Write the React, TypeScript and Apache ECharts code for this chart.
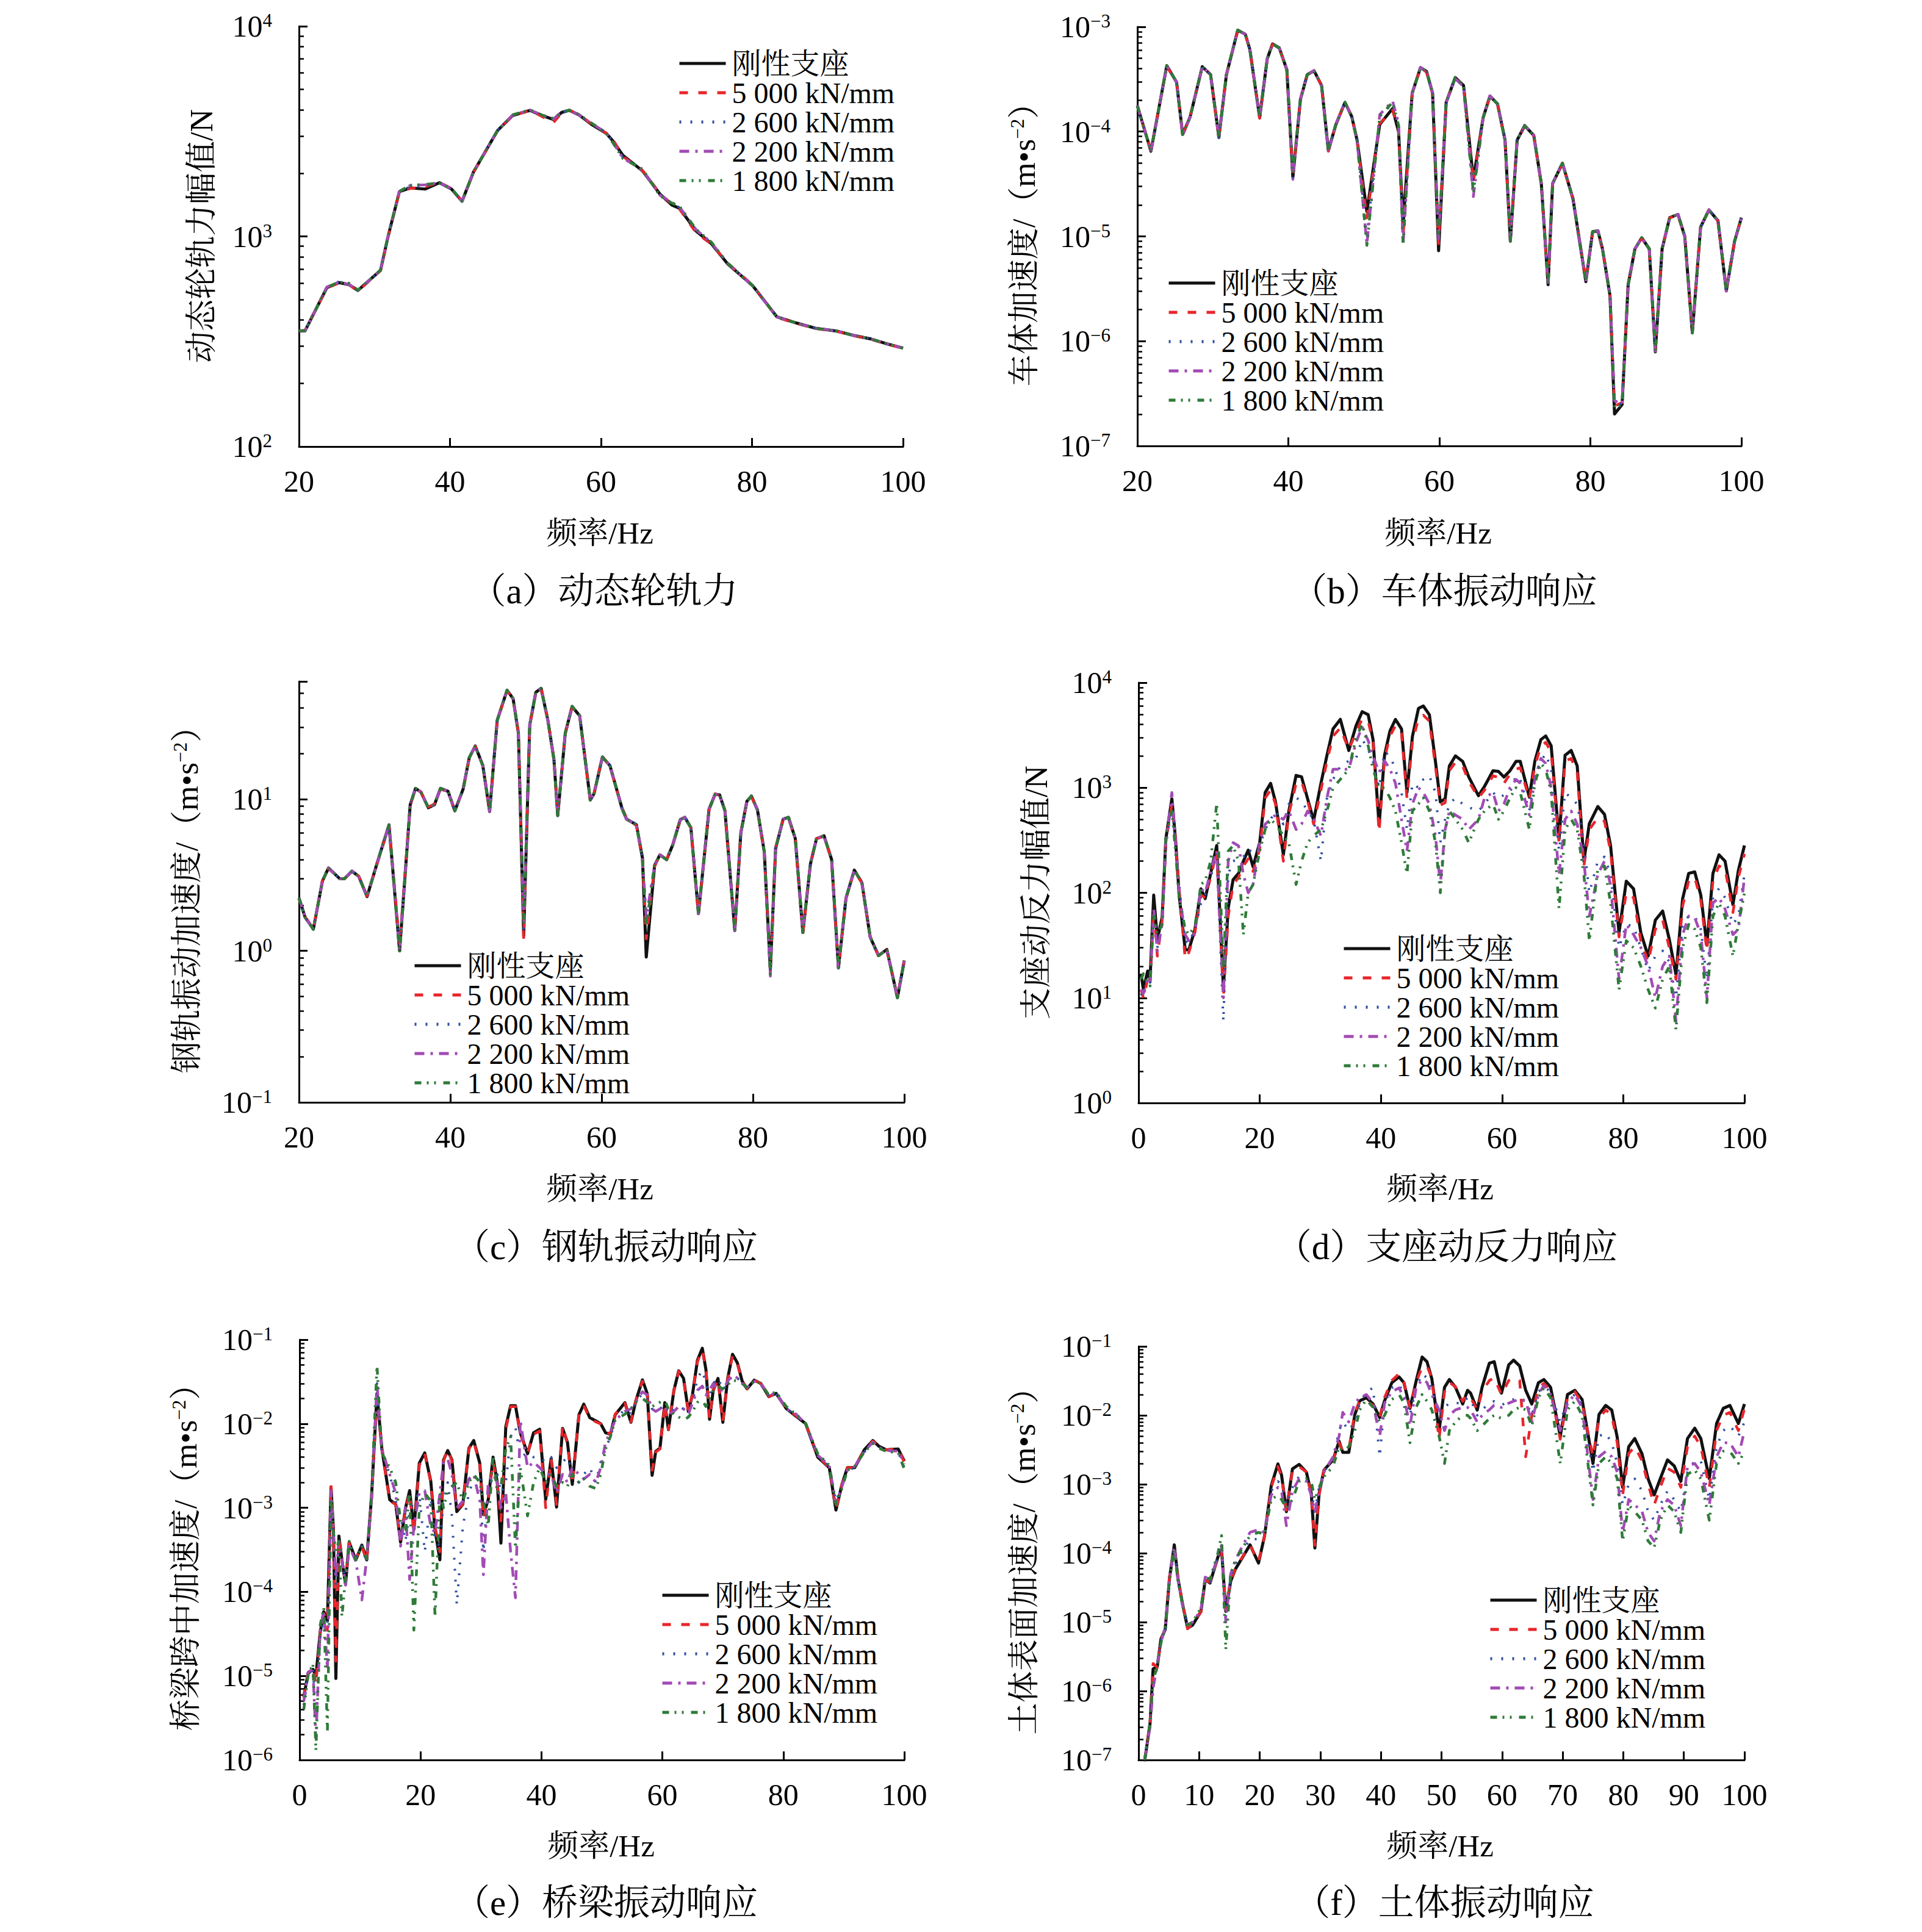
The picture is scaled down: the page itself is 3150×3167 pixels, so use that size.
import React, { useEffect, useRef } from 'react';
import * as echarts from 'echarts';

const FONT = "'Liberation Serif', 'Times New Roman', 'Noto Serif CJK SC', 'Noto Sans CJK SC', serif";
const SERIES_NAMES = ['刚性支座', '5 000 kN/mm', '2 600 kN/mm', '2 200 kN/mm', '1 800 kN/mm'];
const COLORS = ['#111111', '#e8262b', '#2f4fa0', '#a24bb5', '#2e7b38'];
const WIDTHS = [5, 4.5, 4, 4.5, 4.5];
const DASHES: any[] = ['solid', [14, 17], [3, 15], [16, 10, 4, 10], [11, 9, 3, 9, 3, 12]];

// ---------- (a) 动态轮轨力 ----------
const aFreq = [20,20.8,23.7,25.3,26.6,27.8,30.8,31.8,33.3,34.7,36.7,38.6,40.2,41.6,43.1,46.3,48.3,50.6,52.2,53.7,54.8,55.8,57.1,58.7,60.7,61.6,62.9,65.5,67.8,69.4,70.4,72.6,74.6,76.8,80.1,83.3,85.9,88.5,91.1,93.6,95.6,97.6,100];
const aRigid = [355,355,571,603,590,553,690,1000,1633,1700,1680,1800,1680,1470,2020,3190,3760,3980,3760,3600,3890,3980,3780,3420,3090,2840,2430,2050,1590,1410,1360,1060,925,738,582,414,387,365,355,337,326,310,294];
const a5000 = [355,357,568,600,592,548,688,990,1630,1690,1720,1810,1690,1475,2010,3180,3750,3970,3720,3480,3870,3990,3790,3440,3100,2880,2400,2060,1600,1420,1350,1040,920,745,585,412,385,364,354,336,325,309,293];
const a2600 = [355,356,572,610,588,552,692,1005,1640,1720,1740,1790,1680,1470,2030,3200,3770,3990,3770,3610,3900,3970,3760,3450,3120,2800,2380,2080,1580,1440,1370,1070,930,740,582,415,386,366,355,338,327,310,294];
const a2200 = [356,355,575,606,592,554,690,1000,1635,1745,1760,1800,1690,1468,2025,3195,3780,3990,3770,3620,3910,3990,3770,3460,3110,2790,2360,2070,1570,1450,1380,1075,935,742,580,414,387,365,355,337,326,310,294];
const a1800 = [356,356,573,606,600,555,691,1002,1638,1750,1770,1790,1690,1470,2020,3190,3790,4000,3780,3640,3900,3990,3800,3470,3100,2780,2350,2090,1560,1440,1390,1080,940,745,582,413,387,365,355,337,326,310,294];

// ---------- (b) 车体振动响应 ----------
const bFreq = [20,21.8,23.9,25.2,26.0,27.0,28.6,29.7,30.8,31.8,
  33.3,34.3,34.9,36.2,37.2,37.9,38.8,39.8,40.6,41.6,
  42.5,43.4,44.4,45.3,46.3,47.5,48.4,49.1,50.4,52.1,
  53.8,54.6,55.2,56.4,57.5,58.3,59.1,59.9,60.9,62.1,
  63.2,64.5,65.8,66.7,67.7,68.7,69.4,70.3,71.3,72.5,
  73.5,74.4,75.0,76.3,77.7,79.4,80.3,81.0,81.6,82.6,
  83.2,84.2,85.0,85.9,86.8,87.8,88.6,89.5,90.5,91.6,
  92.5,93.5,94.6,95.7,96.9,98.0,99.1,100];
const bRigid = [1.77e-4,6.5e-5,4.26e-4,2.96e-4,9.4e-5,1.39e-4,4.17e-4,3.5e-4,8.8e-5,3.5e-4,
  9.3e-4,8.5e-4,6.1e-4,1.36e-4,4.94e-4,6.87e-4,6.3e-4,3.89e-4,3.67e-5,2.03e-4,
  3.5e-4,3.81e-4,2.76e-4,6.6e-5,1.17e-4,1.9e-4,1.39e-4,8.3e-5,1.73e-5,1.17e-4,
  1.66e-4,1.0e-4,1.3e-5,2.33e-4,4.08e-4,3.76e-4,2.33e-4,7.3e-6,1.9e-4,3.28e-4,
  2.76e-4,3.5e-5,1.36e-4,2.18e-4,1.84e-4,8.3e-5,9e-6,8.3e-5,1.14e-4,9.2e-5,
  3.2e-5,3.46e-6,3.2e-5,4.99e-5,2.28e-5,3.7e-6,1.11e-5,1.13e-5,7.6e-6,2.72e-6,
  2.02e-7,2.48e-7,3.46e-6,7.6e-6,9.7e-6,7.6e-6,7.9e-7,7.6e-6,1.51e-5,1.62e-5,
  1.0e-5,1.2e-6,1.23e-5,1.79e-5,1.41e-5,3.02e-6,9e-6,1.51e-5];
const b5000 = [1.77e-4,6.6e-5,4.2e-4,2.98e-4,9.2e-5,1.4e-4,4.15e-4,3.5e-4,8.6e-5,3.5e-4,
  9.2e-4,8.5e-4,6.1e-4,1.34e-4,4.9e-4,6.8e-4,6.3e-4,3.9e-4,3.6e-5,2.05e-4,
  3.5e-4,3.8e-4,2.75e-4,6.5e-5,1.18e-4,1.9e-4,1.4e-4,8.2e-5,1.5e-5,1.2e-4,
  1.6e-4,1.05e-4,1.0e-5,2.35e-4,4.05e-4,3.7e-4,2.3e-4,8.5e-6,1.9e-4,3.2e-4,
  2.8e-4,3.3e-5,1.36e-4,2.15e-4,1.85e-4,8.2e-5,9.2e-6,8.4e-5,1.12e-4,9.3e-5,
  3.1e-5,3.5e-6,3.2e-5,4.9e-5,2.3e-5,3.8e-6,1.1e-5,1.12e-5,7.5e-6,2.8e-6,
  2.4e-7,2.6e-7,3.4e-6,7.5e-6,9.6e-6,7.5e-6,8.2e-7,7.7e-6,1.5e-5,1.6e-5,
  1.0e-5,1.25e-6,1.22e-5,1.78e-5,1.4e-5,3.1e-6,9e-6,1.5e-5];
const b2600 = [1.77e-4,6.5e-5,4.25e-4,2.95e-4,9.4e-5,1.38e-4,4.2e-4,3.48e-4,8.7e-5,3.5e-4,
  9.3e-4,8.4e-4,6.1e-4,1.35e-4,4.95e-4,6.8e-4,6.2e-4,3.9e-4,3.6e-5,2.0e-4,
  3.5e-4,3.8e-4,2.8e-4,6.6e-5,1.2e-4,1.92e-4,1.38e-4,8.1e-5,1.0e-5,1.4e-4,
  1.85e-4,1.1e-4,8.8e-6,2.3e-4,4.1e-4,3.75e-4,2.3e-4,9e-6,1.88e-4,3.25e-4,
  2.75e-4,3e-5,1.35e-4,2.2e-4,1.85e-4,8.3e-5,9e-6,8.3e-5,1.15e-4,9.2e-5,
  3.2e-5,3.5e-6,3.2e-5,5e-5,2.3e-5,3.7e-6,1.1e-5,1.13e-5,7.6e-6,2.7e-6,
  2.6e-7,2.5e-7,3.5e-6,7.6e-6,9.7e-6,7.6e-6,8e-7,7.6e-6,1.5e-5,1.62e-5,
  1.0e-5,1.2e-6,1.23e-5,1.8e-5,1.4e-5,3e-6,9e-6,1.5e-5];
const b2200 = [1.78e-4,6.4e-5,4.27e-4,2.97e-4,9.3e-5,1.39e-4,4.18e-4,3.5e-4,8.8e-5,3.52e-4,
  9.3e-4,8.5e-4,6.2e-4,1.36e-4,4.95e-4,6.9e-4,6.3e-4,3.9e-4,3.5e-5,2.03e-4,
  3.5e-4,3.82e-4,2.76e-4,6.4e-5,1.18e-4,1.9e-4,1.39e-4,8.2e-5,8.4e-6,1.45e-4,
  1.96e-4,1.2e-4,8.4e-6,2.33e-4,4.1e-4,3.76e-4,2.35e-4,9.5e-6,1.9e-4,3.2e-4,
  2.7e-4,2.4e-5,1.36e-4,2.2e-4,1.85e-4,8.3e-5,9e-6,8.3e-5,1.15e-4,9.2e-5,
  3.2e-5,3.4e-6,3.2e-5,5e-5,2.3e-5,3.7e-6,1.1e-5,1.13e-5,7.6e-6,2.7e-6,
  2.7e-7,2.5e-7,3.5e-6,7.6e-6,9.7e-6,7.6e-6,8e-7,7.6e-6,1.5e-5,1.62e-5,
  1.0e-5,1.2e-6,1.23e-5,1.8e-5,1.4e-5,3e-6,9e-6,1.5e-5];
const b1800 = [1.76e-4,6.5e-5,4.26e-4,2.96e-4,9.4e-5,1.39e-4,4.17e-4,3.5e-4,8.8e-5,3.5e-4,
  9.3e-4,8.5e-4,6.1e-4,1.36e-4,4.94e-4,6.87e-4,6.3e-4,3.89e-4,4.0e-5,2.03e-4,
  3.5e-4,3.81e-4,2.76e-4,6.6e-5,1.17e-4,1.9e-4,1.39e-4,8.3e-5,8.2e-6,1.4e-4,
  1.9e-4,1.15e-4,8.2e-6,2.33e-4,4.08e-4,3.76e-4,2.33e-4,1.0e-5,1.9e-4,3.28e-4,
  2.76e-4,2.6e-5,1.36e-4,2.18e-4,1.84e-4,8.3e-5,9e-6,8.3e-5,1.14e-4,9.2e-5,
  3.2e-5,3.46e-6,3.2e-5,4.99e-5,2.28e-5,3.7e-6,1.11e-5,1.13e-5,7.6e-6,2.72e-6,
  2.3e-7,2.48e-7,3.46e-6,7.6e-6,9.7e-6,7.6e-6,7.9e-7,7.6e-6,1.51e-5,1.62e-5,
  1.0e-5,1.2e-6,1.23e-5,1.79e-5,1.41e-5,3.02e-6,9e-6,1.51e-5];

// ---------- (c) 钢轨振动响应 ----------
const cFreq = [20,20.8,21.9,23.1,23.9,25.4,26.0,27.0,27.9,29.0,
  30.3,31.9,33.3,34.7,35.4,36.1,37.1,37.9,38.7,39.7,
  40.6,41.7,42.5,43.3,44.3,45.2,46.2,47.5,48.3,49.0,
  49.7,50.5,51.3,52.0,52.9,53.7,54.2,55.2,56.1,57.1,
  58.5,59.0,60.1,61.1,62.7,63.3,64.6,65.4,65.9,67.0,
  67.7,68.6,69.4,70.4,71.0,71.8,72.8,74.2,75.0,75.6,
  76.3,77.6,78.4,79.2,79.8,80.6,81.5,82.3,83.0,84.0,
  84.7,85.6,86.6,87.6,88.4,89.4,90.4,91.3,92.3,93.4,
  94.4,95.5,96.6,97.7,99.1,100];
const cRigid = [2.23,1.67,1.39,2.89,3.52,2.99,2.99,3.36,3.1,2.28,
  3.75,6.78,1.0,9.2,11.8,11.2,8.8,9.2,11.8,11.3,
  8.4,11.7,18.8,22.5,16.7,8.3,33.2,52.5,46.2,27.4,
  1.26,30.9,50.8,54,33.2,18.3,7.8,27.4,41,35.6,
  9.9,10.9,19,16.7,8.7,7.4,6.8,4.1,0.91,3.66,
  4.3,4.0,5.0,7.35,7.6,6.5,1.76,8.6,10.8,10.7,
  8.4,1.36,6.0,9.7,10.5,8.5,4.5,0.75,4.75,7.4,
  7.6,5.5,1.32,3.75,5.5,5.74,4.0,0.77,2.23,3.41,
  2.82,1.23,0.93,1.02,0.49,0.86];
const c5000 = [2.22,1.68,1.4,2.9,3.5,3.0,2.98,3.35,3.1,2.3,
  3.7,6.7,1.1,9.1,11.7,11.2,8.9,9.3,11.7,11.2,
  8.5,11.6,18.9,22.4,16.8,8.4,33.0,52.0,46.5,27.8,
  1.2,30.5,50.5,54.5,33.5,18.5,7.9,27.0,40.5,35.8,
  9.8,11.0,19.2,16.5,8.8,7.5,6.7,4.0,1.2,3.6,
  4.3,4.0,5.0,7.3,7.6,6.5,1.78,8.5,10.9,10.6,
  8.5,1.35,6.1,9.6,10.4,8.6,4.4,0.72,4.8,7.4,
  7.5,5.5,1.3,3.8,5.5,5.7,4.0,0.78,2.2,3.4,
  2.8,1.25,0.92,1.01,0.5,0.87];
const c2600 = [2.23,1.66,1.38,2.88,3.53,2.99,3.0,3.37,3.08,2.27,
  3.76,6.8,1.05,9.2,11.8,11.3,8.8,9.2,11.9,11.3,
  8.4,11.7,18.7,22.6,16.6,8.3,33.3,52.6,46.0,27.2,
  1.4,31.0,51.0,54.2,33.0,18.2,7.8,27.5,41.2,35.5,
  9.9,10.8,19.1,16.8,8.7,7.3,6.9,4.2,1.5,3.7,
  4.3,4.1,5.0,7.4,7.6,6.4,1.75,8.6,10.8,10.7,
  8.4,1.37,6.0,9.7,10.5,8.5,4.5,0.7,4.75,7.4,
  7.6,5.5,1.32,3.75,5.5,5.74,4.0,0.77,2.23,3.41,
  2.82,1.23,0.93,1.02,0.49,0.86];
const c2200 = [2.24,1.67,1.39,2.9,3.52,2.98,2.99,3.36,3.1,2.28,
  3.75,6.78,1.0,9.3,11.8,11.2,8.8,9.2,11.8,11.3,
  8.4,11.7,18.8,22.5,16.7,8.3,33.2,52.5,46.2,27.4,
  1.5,30.9,50.8,54,33.2,18.3,7.8,27.4,41,35.6,
  9.9,10.9,19,16.7,8.7,7.4,6.8,4.1,1.67,3.66,
  4.3,4.0,5.0,7.35,7.6,6.5,1.76,8.6,10.8,10.7,
  8.4,1.36,6.0,9.7,10.5,8.5,4.5,0.68,4.75,7.4,
  7.6,5.5,1.32,3.75,5.5,5.74,4.0,0.77,2.23,3.41,
  2.82,1.23,0.93,1.02,0.49,0.86];
const c1800 = [2.23,1.67,1.39,2.89,3.52,2.99,2.99,3.36,3.1,2.28,
  3.75,6.78,0.97,9.2,11.8,11.2,8.8,9.2,11.8,11.3,
  8.4,11.7,18.8,22.5,16.7,8.3,33.2,52.5,46.2,27.4,
  1.5,30.9,50.8,54,33.2,18.3,7.8,27.4,41,35.6,
  9.9,10.9,19,16.7,8.7,7.4,6.8,4.1,1.45,3.66,
  4.3,4.0,5.0,7.35,7.6,6.5,1.76,8.6,10.8,10.7,
  8.4,1.36,6.0,9.7,10.5,8.5,4.5,0.7,4.75,7.4,
  7.6,5.5,1.32,3.75,5.5,5.74,4.0,0.77,2.23,3.41,
  2.82,1.23,0.93,1.02,0.49,0.86];

// ---------- (d) 支座动反力响应 ----------
const dFreq = [0.4,0.8,1.5,1.9,2.5,3.1,3.9,4.5,5.5,6.1,
  6.7,7.7,8.3,9.3,10.3,11.0,11.9,12.9,14.0,14.8,
  15.6,16.5,17.3,18.1,18.9,20.0,20.9,21.8,22.6,23.9,
  24.8,26.0,26.9,27.9,28.9,30.1,31.1,32.1,33.3,34.7,
  35.9,36.9,37.9,38.7,39.7,40.6,41.5,42.4,43.4,44.3,
  45.2,46.2,47.0,48.0,49.0,49.8,50.6,51.3,52.3,53.5,
  54.5,56.1,57.1,58.5,59.4,60.3,61.3,62.3,63.0,64.5,
  65.4,66.4,67.2,68.1,69.4,70.4,71.4,72.4,73.5,74.4,
  75.8,76.9,77.9,79.3,80.5,81.7,82.9,84.1,85.3,86.5,
  87.6,88.7,89.8,90.8,91.8,92.8,93.8,94.8,95.8,96.8,
  98.1,99.0,100];
const dRigid = [17,12,18,15,95,36,59,324,785,324,
  95,28.7,28.7,44.6,109,88,153,282,12.4,72,
  133,153,200,255,177,302,900,1100,733,230,
  597,1310,1270,785,487,1100,2040,3630,4470,2260,
  3900,5290,4950,2870,440,2040,3480,4470,3630,900,
  3070,5680,6000,4950,1780,733,785,1610,2010,1780,
  1265,840,1030,1450,1430,1265,1450,1780,1780,813,
  1780,2870,3110,2510,324,2040,2260,1610,200,455,
  662,558,282,41.7,129,109,41.7,25,55,67,
  36,16.6,88,153,158,95,31.8,153,230,200,
  77,163,282];
const d5000 = [12,10,15,13,70,25,55,300,700,330,
  110,23.5,27,42,95,90,140,250,10,60,
  120,140,180,210,160,260,800,950,700,200,
  560,1100,1150,750,450,950,1800,3100,3700,2300,
  3400,4500,4300,2700,380,1900,3100,3900,3300,800,
  2700,4600,4900,4300,1600,680,720,1450,1750,1600,
  1150,800,950,1300,1250,1100,1350,1500,1550,780,
  1600,2500,2700,2200,300,1800,1900,1400,180,400,
  520,480,250,38,100,90,35,22,45,55,
  30,15,75,130,140,85,28,130,180,170,
  65,140,235];
const d2600 = [11,10,16,14,60,30,55,280,720,300,
  120,35,33,45,80,95,140,240,6,150,
  200,210,220,260,240,280,400,500,600,450,
  700,800,750,600,500,200,800,1200,1600,1800,
  1900,2900,2300,1800,1000,2200,2000,1500,900,400,
  1100,1000,1200,1300,900,300,500,700,800,700,
  650,600,700,900,800,850,900,1300,1200,600,
  1300,1800,2100,1500,250,900,800,700,300,100,
  200,220,150,30,50,48,30,18,25,28,
  22,10,50,60,60,45,15,90,110,90,
  50,60,150];
const d2200 = [12,11,15,14,70,28,50,300,900,300,
  100,40,35,42,110,100,160,250,10,200,
  300,280,150,100,120,300,450,500,550,500,
  600,400,450,600,500,350,800,1500,1500,1500,
  2700,3800,2800,2000,1400,1800,1500,1100,500,250,
  700,1000,900,700,350,120,400,600,550,500,
  400,500,800,900,600,700,1000,1200,1100,550,
  1200,1900,1700,1000,150,500,600,450,200,60,
  150,200,120,15,50,40,30,20,10,20,
  25,6,40,60,58,40,10,80,90,70,
  40,45,140];
const d1800 = [15,17,14,13,60,40,50,350,600,250,
  90,45,40,48,120,130,200,710,20,250,
  280,200,40,100,120,250,400,500,450,350,
  300,120,200,300,350,400,600,1000,1200,1500,
  3000,4000,2500,1500,1000,1000,800,600,300,150,
  600,700,800,600,300,100,400,600,500,400,
  300,500,600,700,500,600,800,1000,900,400,
  1100,1700,1500,900,70,400,500,400,150,35,
  170,180,80,12,35,30,20,12,8,15,
  20,5,30,50,45,30,9,60,80,60,
  25,50,100];

// ---------- (e) 桥梁振动响应 ----------
const eFreq = [0.7,1.4,2.2,2.7,3.4,4.0,4.6,5.2,5.6,6.0,
  6.5,7.0,7.6,8.2,9.3,10.3,11.1,11.9,12.8,13.6,
  14.9,15.9,16.7,17.5,18.2,18.9,19.8,20.7,21.7,22.4,
  23.2,23.8,24.5,25.2,26.0,27.0,28.0,28.8,29.8,30.4,
  31.2,32.0,32.7,33.3,34.1,34.9,35.7,36.5,37.7,38.7,
  39.7,40.7,41.6,42.5,43.5,44.3,45.1,46.2,47.0,48.0,
  49.0,49.8,50.6,51.4,52.2,53.8,54.8,55.6,56.7,57.5,
  58.3,58.9,59.6,60.4,61.0,61.9,62.7,63.5,64.3,65.0,
  65.8,66.6,67.2,67.8,68.4,69.2,70.0,70.8,71.6,72.4,
  73.2,74.0,75.2,76.3,77.6,78.8,80.5,82.1,83.7,85.7,
  87.6,88.7,89.7,90.6,91.8,93.4,94.8,95.8,97.0,99.0,
  100];
const eRigid = [5.7e-6,1.07e-5,1.2e-5,1.0e-5,3.26e-5,5.8e-5,4.5e-5,1.75e-3,5.5e-4,9.3e-6,
  4.6e-4,2.4e-4,1.23e-4,3.9e-4,2.4e-4,3.6e-4,2.4e-4,1.36e-3,2.28e-2,5.1e-3,
  1.25e-3,1.1e-3,3.9e-4,9.8e-4,1.6e-3,5.5e-4,3.4e-3,4.5e-3,2.06e-3,5.5e-4,
  2.4e-4,3.7e-3,4.8e-3,3.7e-3,9e-4,1.1e-3,5.1e-3,6.3e-3,3.4e-3,8.3e-4,
  1.25e-3,4e-3,1.98e-3,3.8e-4,9.2e-3,1.64e-2,1.64e-2,7.8e-3,4.4e-3,7.8e-3,
  8.6e-3,1.25e-3,3.84e-3,1.02e-3,8.8e-3,6.0e-3,1.9e-3,1.28e-2,1.71e-2,1.18e-2,
  1.08e-2,1e-2,7.8e-3,7.5e-3,1.28e-2,1.78e-2,1.04e-2,1.86e-2,3.32e-2,2.28e-2,
  2.43e-3,4.7e-3,5.1e-3,1.78e-2,8.5e-3,2.48e-2,4.26e-2,3.46e-2,1.39e-2,2.28e-2,
  5.7e-2,7.9e-2,4.4e-2,1.13e-2,2.48e-2,3.46e-2,1.04e-2,3.46e-2,6.7e-2,5.3e-2,
  3.2e-2,2.6e-2,3.3e-2,3.0e-2,2.1e-2,2.3e-2,1.51e-2,1.23e-2,1e-2,4e-3,
  3.0e-3,9.4e-4,1.9e-3,3.0e-3,3.0e-3,4.9e-3,6.3e-3,5.4e-3,4.9e-3,5.0e-3,
  3.6e-3];
const e5000 = [5.5e-6,1.1e-5,1.25e-5,8e-6,3.4e-5,5.5e-5,3.5e-5,1.9e-3,5.2e-4,1.5e-5,
  4.4e-4,2.3e-4,1.3e-4,3.8e-4,2.5e-4,3.5e-4,2.3e-4,1.3e-3,2.0e-2,5.0e-3,
  1.2e-3,1.1e-3,4.2e-4,9.5e-4,1.5e-3,5.0e-4,3.2e-3,4.4e-3,2.0e-3,6.0e-4,
  3.0e-4,3.6e-3,4.9e-3,3.6e-3,9.5e-4,1.1e-3,5.0e-3,6.2e-3,3.2e-3,7.5e-4,
  1.3e-3,3.5e-3,2.0e-3,7e-4,8.5e-3,1.6e-2,1.6e-2,7.5e-3,4.5e-3,7.5e-3,
  8.2e-3,1.0e-3,3.8e-3,1.1e-3,9.5e-3,5.8e-3,1.9e-3,1.3e-2,1.65e-2,1.15e-2,
  1.05e-2,1e-2,8e-3,7.5e-3,1.3e-2,1.75e-2,1.05e-2,1.9e-2,3.2e-2,2.3e-2,
  2.8e-3,4.6e-3,5.0e-3,1.75e-2,8.5e-3,2.5e-2,4.2e-2,3.4e-2,1.4e-2,2.3e-2,
  5.5e-2,7.5e-2,4.5e-2,1.15e-2,2.5e-2,3.4e-2,1.05e-2,3.4e-2,6.4e-2,5.2e-2,
  3.2e-2,2.6e-2,3.3e-2,3.0e-2,2.1e-2,2.3e-2,1.5e-2,1.25e-2,1e-2,4.1e-3,
  3.0e-3,9.5e-4,1.9e-3,3.0e-3,3.0e-3,4.9e-3,6.2e-3,5.4e-3,4.9e-3,5.0e-3,
  3.5e-3];
const e2600 = [4.5e-6,1.0e-5,1.3e-5,3e-6,3e-5,5e-5,4e-5,1.5e-3,5e-4,1.2e-4,
  4e-4,2.5e-4,1.3e-4,3.8e-4,2.6e-4,3.5e-4,2.2e-4,1.3e-3,3e-2,4.5e-3,
  2.5e-3,1.2e-3,8e-4,4e-4,9e-4,1.2e-3,1.5e-3,3e-4,1.3e-3,4e-4,
  3.5e-4,1.2e-3,2e-3,8e-4,7e-5,6e-4,1.5e-3,2.2e-3,2.5e-3,3e-4,
  1.8e-3,2.2e-3,2.5e-3,1.5e-3,2e-3,7e-3,9e-3,4e-3,4.5e-3,4e-3,
  4e-3,3.5e-3,4e-3,3e-3,3.5e-3,4e-3,2.5e-3,2e-3,2.5e-3,3e-3,
  2e-3,3.5e-3,5e-3,7e-3,1.1e-2,1.5e-2,1.3e-2,1.8e-2,2.3e-2,2e-2,
  1.5e-2,1.4e-2,1.5e-2,1.7e-2,1.3e-2,1.5e-2,1.6e-2,1.5e-2,1.2e-2,1.8e-2,
  3.5e-2,4.3e-2,3e-2,2.2e-2,3e-2,3.5e-2,2.5e-2,3e-2,3.8e-2,3.5e-2,
  3e-2,2.6e-2,3.2e-2,2.9e-2,2.1e-2,2.3e-2,1.5e-2,1.25e-2,1e-2,4.2e-3,
  3.1e-3,1.2e-3,1.8e-3,2.8e-3,3.0e-3,4.6e-3,6e-3,5.2e-3,4.8e-3,4.6e-3,
  3.0e-3];
const e2200 = [5e-6,1.1e-5,1.2e-5,1.8e-6,3.5e-5,6e-5,1.2e-5,1.6e-3,5e-4,1.5e-4,
  4e-4,2.5e-4,1.2e-4,3.5e-4,2.3e-4,8e-5,2.5e-4,1.2e-3,3e-2,5e-3,
  2.5e-3,1.5e-3,3.5e-4,1e-3,1.4e-4,6e-4,1.5e-3,1.6e-3,6e-4,5e-4,
  1.5e-3,3.5e-3,3.8e-3,2.5e-3,1e-3,1.2e-3,2.2e-3,2.5e-3,1.2e-3,1.6e-4,
  2e-3,2.5e-3,2e-3,1e-3,1.5e-3,3e-4,8.5e-5,1.1e-2,3e-3,3.5e-3,
  3e-3,2.5e-3,2.5e-3,1.5e-3,2.5e-3,2e-3,3e-3,2.5e-3,2.2e-3,2.5e-3,
  2e-3,3e-3,6e-3,8e-3,1.1e-2,1.4e-2,1.5e-2,1.8e-2,2.4e-2,2.2e-2,
  1.5e-2,1.4e-2,1.5e-2,1.6e-2,1.3e-2,1.4e-2,1.6e-2,1.5e-2,1.3e-2,1.8e-2,
  2.5e-2,2.8e-2,2.2e-2,2.5e-2,3e-2,2.5e-2,2.5e-2,3.2e-2,3.8e-2,3.5e-2,
  3e-2,2.7e-2,3.2e-2,3e-2,2.2e-2,2.3e-2,1.5e-2,1.3e-2,1e-2,4.2e-3,
  3.2e-3,1.1e-3,1.8e-3,2.8e-3,3.1e-3,4.7e-3,6e-3,5.2e-3,4.8e-3,4.7e-3,
  3.3e-3];
const e1800 = [4e-6,1.0e-5,1.4e-5,1.3e-6,4e-5,6.5e-5,2.2e-6,1.2e-3,5e-4,3e-4,
  4e-4,5e-5,1.5e-4,4e-4,2.4e-4,3.5e-4,2.5e-4,1.5e-3,5e-2,4.5e-3,
  3e-3,2e-3,7e-4,5e-4,1.5e-3,3.5e-5,1e-3,1.5e-3,1.2e-3,5e-5,
  1.5e-3,1e-3,1.6e-3,1.8e-3,2e-3,1.2e-3,2e-3,2.5e-3,2e-3,1.2e-3,
  6e-4,4.2e-3,1.5e-3,1.8e-3,5e-3,7e-3,3.3e-4,3e-3,8e-4,2e-3,
  3e-3,2e-3,2.5e-3,1.8e-3,2e-3,1.8e-3,2.5e-3,2e-3,2.2e-3,1.8e-3,
  1.7e-3,2.5e-3,5e-3,7e-3,1.1e-2,1.3e-2,1.5e-2,1.8e-2,2e-2,1.8e-2,
  1.6e-2,1.7e-2,1.8e-2,1.9e-2,1.5e-2,1.3e-2,1.2e-2,1.1e-2,1.2e-2,1.4e-2,
  1.8e-2,1.9e-2,1.6e-2,2e-2,2.5e-2,2.8e-2,2.6e-2,2.9e-2,3.3e-2,3.2e-2,
  3e-2,2.7e-2,3.2e-2,3e-2,2.2e-2,2.4e-2,1.6e-2,1.3e-2,1e-2,4.4e-3,
  3.2e-3,1.1e-3,1.7e-3,2.8e-3,3.1e-3,4.6e-3,5.8e-3,5.1e-3,4.7e-3,4.5e-3,
  2.9e-3];

// ---------- (f) 土体振动响应 ----------
const fFreq = [1.0,1.9,2.4,3.1,3.7,4.4,5.1,5.9,6.5,7.3,
  8.1,8.9,10.3,11.0,11.8,13.1,13.7,14.4,15.2,16.0,
  17.2,18.4,19.8,20.8,21.9,23.0,23.6,24.4,25.4,26.5,
  27.7,28.5,29.1,29.8,30.6,32.1,33.1,33.7,34.7,35.7,
  36.5,37.6,38.7,39.8,40.6,41.8,43.0,43.8,44.8,45.8,
  46.8,47.6,48.4,49.6,50.5,51.3,52.3,53.5,54.3,54.8,
  55.9,56.7,57.9,58.7,59.9,61.1,61.9,62.9,63.9,64.9,
  66.0,66.9,68.0,69.6,70.8,72.0,73.2,75.0,76.0,77.1,
  78.1,79.0,79.9,80.9,81.9,83.1,84.1,85.1,86.1,87.3,
  88.4,89.5,90.6,91.8,92.8,94.2,95.4,96.5,97.6,99.0,
  100];
const fRigid = [9.5e-8,3.4e-7,2.09e-6,2.3e-6,5.7e-6,7.8e-6,4.3e-5,1.32e-4,4.3e-5,1.75e-5,
  8.2e-6,9e-6,1.43e-5,4.1e-5,3.7e-5,8.8e-5,1.14e-4,1.43e-5,3.9e-5,5.9e-5,
  8.8e-5,1.32e-4,7.2e-5,1.79e-4,9.5e-4,1.97e-3,1.36e-3,4.0e-4,1.67e-3,1.94e-3,
  1.5e-3,7.4e-4,1.19e-4,7.4e-4,1.6e-3,2.25e-3,4.2e-3,2.9e-3,2.9e-3,1.03e-2,
  1.62e-2,1.8e-2,1.46e-2,9.3e-3,1.62e-2,2.97e-2,3.6e-2,2.97e-2,1.26e-2,3.1e-2,
  7.0e-2,6.0e-2,3.4e-2,5.9e-3,2.55e-2,3.3e-2,2.55e-2,1.46e-2,2.3e-2,2.1e-2,
  1.19e-2,2.55e-2,5.7e-2,6.0e-2,2.1e-2,5.4e-2,6.3e-2,5.2e-2,2.3e-2,1.46e-2,
  2.97e-2,3.3e-2,2.55e-2,5.0e-3,2.0e-2,2.3e-2,1.7e-2,2.0e-3,1.03e-2,1.39e-2,
  1.19e-2,4.8e-3,9.0e-4,3.5e-3,4.6e-3,2.75e-3,1.2e-3,7.0e-4,1.2e-3,2.25e-3,
  1.85e-3,1.1e-3,4.6e-3,6.5e-3,4.6e-3,1.2e-3,7.6e-3,1.26e-2,1.39e-2,7.6e-3,
  1.46e-2];
const f5000 = [1e-7,3.5e-7,2.5e-6,2.2e-6,5.5e-6,8e-6,4.5e-5,1.2e-4,4.5e-5,1.8e-5,
  8e-6,9.5e-6,1.4e-5,4e-5,3.8e-5,8.5e-5,1.1e-4,1.5e-5,4e-5,6e-5,
  9e-5,1.3e-4,7.5e-5,1.8e-4,9e-4,1.8e-3,1.3e-3,4.2e-4,1.6e-3,1.8e-3,
  1.5e-3,7e-4,1.3e-4,7e-4,1.6e-3,2.2e-3,4e-3,3e-3,3.2e-3,1.1e-2,
  1.6e-2,1.6e-2,1.4e-2,9.5e-3,1.8e-2,3.2e-2,4.0e-2,3.0e-2,1.3e-2,3.0e-2,
  5.0e-2,5.2e-2,3.5e-2,4.5e-3,2.2e-2,3.0e-2,2.6e-2,1.6e-2,2.0e-2,1.8e-2,
  1.2e-2,2.2e-2,3.2e-2,3.5e-2,2.0e-2,3.2e-2,3.5e-2,3.2e-2,2.5e-3,1.0e-2,
  2.5e-2,2.9e-2,2.3e-2,4.5e-3,1.8e-2,2.2e-2,1.5e-2,2.5e-3,9e-3,1.2e-2,
  1.0e-2,4e-3,7e-4,2.8e-3,3.5e-3,2.2e-3,1.0e-3,5e-4,9e-4,1.7e-3,
  1.5e-3,9e-4,3.5e-3,5e-3,3.5e-3,9e-4,6e-3,1.0e-2,1.1e-2,6e-3,
  1.25e-2];
const f2600 = [1e-7,3.3e-7,1.2e-6,2.5e-6,5.5e-6,8e-6,4e-5,1.2e-4,4e-5,1.8e-5,
  9e-6,9.5e-6,1.5e-5,4.2e-5,3.8e-5,9e-5,1.3e-4,1.2e-5,4.5e-5,7e-5,
  1.1e-4,1.6e-4,1.6e-4,2.2e-4,8e-4,1.1e-3,1.0e-3,5e-4,9e-4,1.3e-3,
  1.2e-3,8e-4,4e-4,9e-4,1.5e-3,2.4e-3,6e-3,8e-3,6e-3,8e-3,
  1.5e-2,2.2e-2,2.5e-2,2.5e-3,1.5e-2,2.5e-2,2.8e-2,2.0e-2,1.0e-2,2.5e-2,
  4.0e-2,3.5e-2,2.5e-2,1.0e-2,1.3e-2,1.5e-2,1.5e-2,1.5e-2,1.8e-2,1.7e-2,
  1.0e-2,1.2e-2,1.5e-2,1.6e-2,1.4e-2,1.6e-2,1.7e-2,1.8e-2,1.6e-2,1.0e-2,
  2.2e-2,2.6e-2,2.2e-2,8e-3,1.6e-2,2.0e-2,1.5e-2,1.5e-3,5e-3,5.5e-3,
  4e-3,2e-3,5e-4,1e-3,1.2e-3,8e-4,4e-4,3e-4,5e-4,8e-4,
  6e-4,4e-4,1.5e-3,2.2e-3,2.2e-3,6e-4,3.5e-3,6e-3,7e-3,5e-3,
  8e-3];
const f2200 = [1e-7,3e-7,1.1e-6,2.4e-6,5e-6,8.5e-6,4.2e-5,1.25e-4,4.2e-5,1.7e-5,
  9e-6,1e-5,1.5e-5,4.5e-5,4e-5,9e-5,1.3e-4,1.0e-5,5e-5,8e-5,
  1.3e-4,2e-4,2.2e-4,2.0e-4,7e-4,9e-4,8e-4,2.5e-4,8e-4,1.2e-3,
  1.1e-3,7e-4,4e-4,8e-4,1.5e-3,2.5e-3,5e-3,1.1e-2,8e-3,1.5e-2,
  1.8e-2,2.0e-2,1.5e-2,5e-3,1.5e-2,2.2e-2,2.5e-2,1.8e-2,7e-3,2.5e-2,
  3.3e-2,3.0e-2,2.0e-2,1.2e-2,6e-3,1.0e-2,1.2e-2,1.3e-2,1.3e-2,1.2e-2,
  8e-3,1.0e-2,1.2e-2,1.4e-2,1.3e-2,1.5e-2,1.6e-2,1.7e-2,1.6e-2,8e-3,
  2.0e-2,2.7e-2,2.0e-2,6e-3,1.5e-2,2.0e-2,1.3e-2,6e-4,2.5e-3,3e-3,
  2.5e-3,1.5e-3,2e-4,6e-4,5e-4,4e-4,2e-4,1.5e-4,4e-4,6e-4,
  5e-4,2.5e-4,1.8e-3,2e-3,1.5e-3,5e-4,2.5e-3,4e-3,4e-3,2.5e-3,
  6e-3];
const f1800 = [1e-7,3.5e-7,1.5e-6,2.2e-6,5e-6,8e-6,4e-5,1.1e-4,4e-5,1.7e-5,
  9e-6,1e-5,1.6e-5,4.5e-5,4.2e-5,1e-4,1.8e-4,4e-6,5e-5,8e-5,
  1.2e-4,1.8e-4,2.0e-4,1.9e-4,6e-4,7e-4,6e-4,4.5e-4,6e-4,1.1e-3,
  1.2e-3,1.1e-3,6e-4,9e-4,1.3e-3,1.8e-3,3.5e-3,3e-3,3.5e-3,6e-3,
  1.2e-2,1.7e-2,1.3e-2,8e-3,1.0e-2,1.7e-2,2.0e-2,1.5e-2,4e-3,1.3e-2,
  2.0e-2,1.6e-2,1.2e-2,5e-3,2e-3,6e-3,8e-3,1.0e-2,1.0e-2,9e-3,
  6e-3,7e-3,9e-3,1.0e-2,9e-3,1.0e-2,1.2e-2,1.3e-2,1.2e-2,7e-3,
  1.8e-2,2.5e-2,1.8e-2,2e-3,1.2e-2,1.6e-2,1.0e-2,5e-4,2e-3,2.5e-3,
  2e-3,1.2e-3,1.5e-4,5e-4,4e-4,3e-4,1.5e-4,1.2e-4,3e-4,5e-4,
  4e-4,2e-4,1.4e-3,1.6e-3,1.2e-3,3e-4,2e-3,3e-3,3e-3,2e-3,
  3e-3];

const PANELS = [
  { freq: aFreq, vals: [aRigid, a5000, a2600, a2200, a1800], xMin: 20, xMax: 100, xInt: 20, yMin: 1e2, yMax: 1e4,
    grid: { left: 490, top: 43, width: 990, height: 689 }, legend: [1106, 75],
    yName: '动态轮轨力幅值/N', yNamePos: [330, 387], xNamePos: [983, 874], caption: '（a）动态轮轨力', capPos: [990, 969] },
  { freq: bFreq, vals: [bRigid, b5000, b2600, b2200, b1800], xMin: 20, xMax: 100, xInt: 20, yMin: 1e-7, yMax: 1e-3,
    grid: { left: 1864, top: 44, width: 990, height: 687 }, legend: [1908, 435],
    yName: '车体加速度/（m•s{s|−2}）', yNamePos: [1678, 388], xNamePos: [2357, 874], caption: '（b）车体振动响应', capPos: [2367, 969] },
  { freq: cFreq, vals: [cRigid, c5000, c2600, c2200, c1800], xMin: 20, xMax: 100, xInt: 20, yMin: 1e-1, yMax: 60,
    grid: { left: 490, top: 1117, width: 992, height: 690 }, legend: [672, 1554],
    yName: '钢轨振动加速度/（m•s{s|−2}）', yNamePos: [306, 1462], xNamePos: [983, 1949], caption: '（c）钢轨振动响应', capPos: [993, 2044] },
  { freq: dFreq, vals: [dRigid, d5000, d2600, d2200, d1800], xMin: 0, xMax: 100, xInt: 20, yMin: 1, yMax: 1e4,
    grid: { left: 1866, top: 1119, width: 993, height: 689 }, legend: [2195, 1526],
    yName: '支座动反力幅值/N', yNamePos: [1698, 1463], xNamePos: [2360, 1949], caption: '（d）支座动反力响应', capPos: [2371, 2044] },
  { freq: eFreq, vals: [eRigid, e5000, e2600, e2200, e1800], xMin: 0, xMax: 100, xInt: 20, yMin: 1e-6, yMax: 1e-1,
    grid: { left: 491, top: 2196, width: 991, height: 689 }, legend: [1078, 2586],
    yName: '桥梁跨中加速度/（m•s{s|−2}）', yNamePos: [304, 2540], xNamePos: [985, 3026], caption: '（e）桥梁振动响应', capPos: [993, 3119] },
  { freq: fFreq, vals: [fRigid, f5000, f2600, f2200, f1800], xMin: 0, xMax: 100, xInt: 10, yMin: 1e-7, yMax: 1e-1,
    grid: { left: 1866, top: 2207, width: 993, height: 678 }, legend: [2435, 2594],
    yName: '土体表面加速度/（m•s{s|−2}）', yNamePos: [1678, 2546], xNamePos: [2360, 3026], caption: '（f）土体振动响应', capPos: [2367, 3119] },
];

function minorTicks(min: number, max: number) {
  const out: number[] = [];
  for (let k = Math.floor(Math.log10(min)); k < Math.ceil(Math.log10(max)); k++) {
    for (let m = 2; m <= 9; m++) {
      const v = m * Math.pow(10, k);
      if (v > min * 1.0001 && v < max * 0.9999) out.push(v);
    }
  }
  return out;
}

function logLabel(value: number) {
  const l = Math.log10(value);
  const e = Math.round(l);
  if (Math.abs(l - e) > 0.01) return '';
  return '10{s|' + (e < 0 ? '−' + -e : String(e)) + '}';
}

function buildOption() {
  const grid: any[] = [];
  const xAxis: any[] = [];
  const yAxis: any[] = [];
  const series: any[] = [];
  const legend: any[] = [];
  const graphic: any[] = [];
  PANELS.forEach((p, i) => {
    grid.push({ ...p.grid, containLabel: false });
    xAxis.push({
      gridIndex: i, type: 'value', min: p.xMin, max: p.xMax, interval: p.xInt, position: 'bottom',
      axisLine: { show: true, lineStyle: { color: '#000', width: 3 } },
      axisTick: { show: true, inside: true, length: 14, lineStyle: { color: '#000', width: 3 } },
      axisLabel: { color: '#000', fontSize: 50, fontFamily: FONT, margin: 32 },
      splitLine: { show: false },
    });
    yAxis.push({
      gridIndex: i, type: 'log', logBase: 10, min: p.yMin, max: p.yMax, position: 'left',
      axisLine: { show: true, lineStyle: { color: '#000', width: 3 } },
      axisTick: { show: true, inside: true, length: 14, lineStyle: { color: '#000', width: 3 } },
      axisLabel: {
        color: '#000', fontSize: 50, fontFamily: FONT, margin: 44, formatter: logLabel,
        rich: { s: { fontSize: 31, fontFamily: FONT, color: '#000', verticalAlign: 'top', lineHeight: 30 } },
      },
      splitLine: { show: false },
    });
    yAxis.push({
      gridIndex: i, type: 'log', logBase: 10, min: p.yMin, max: p.yMax, position: 'left', offset: 0,
      axisLine: { show: false },
      axisTick: { show: true, inside: true, length: 8, customValues: minorTicks(p.yMin, p.yMax), lineStyle: { color: '#000', width: 2.5 } },
      axisLabel: { show: false },
      splitLine: { show: false },
    });
    SERIES_NAMES.forEach((name, j) => {
      series.push({
        type: 'line', name, xAxisIndex: i, yAxisIndex: 2 * i,
        data: p.freq.map((f, k) => [f, p.vals[j][k]]),
        showSymbol: false, symbol: 'none', smooth: false,
        lineStyle: { color: COLORS[j], width: WIDTHS[j], type: DASHES[j], cap: 'butt', join: 'round' },
        itemStyle: { color: COLORS[j] },
        z: 2 + j,
      });
    });
    legend.push({
      orient: 'vertical', left: p.legend[0], top: p.legend[1], itemWidth: 76, itemHeight: 14, itemGap: 0,
      selectedMode: false, data: SERIES_NAMES,
      itemStyle: { opacity: 0, borderWidth: 0 },
      lineStyle: { width: 5 },
      textStyle: { color: '#000', fontSize: 48, fontFamily: FONT, lineHeight: 48, padding: [0, 0, 0, 5] },
    });
    graphic.push({
      type: 'text', x: p.yNamePos[0], y: p.yNamePos[1], rotation: Math.PI / 2,
      style: {
        text: p.yName, fontSize: 52, fontFamily: FONT, fill: '#000',
        align: 'center', verticalAlign: 'middle', textAlign: 'center', textVerticalAlign: 'middle',
        rich: { s: { fontSize: 31, fontFamily: FONT, fill: '#000', verticalAlign: 'top', lineHeight: 30 } },
      },
    });
    graphic.push({
      type: 'text', x: p.xNamePos[0], y: p.xNamePos[1],
      style: { text: '频率/Hz', fontSize: 51, fontFamily: FONT, fill: '#000', align: 'center', verticalAlign: 'middle', textAlign: 'center', textVerticalAlign: 'middle' },
    });
    graphic.push({
      type: 'text', x: p.capPos[0], y: p.capPos[1],
      style: { text: p.caption, fontSize: 59, fontFamily: FONT, fill: '#000', align: 'center', verticalAlign: 'middle', textAlign: 'center', textVerticalAlign: 'middle' },
    });
  });
  return { animation: false, backgroundColor: '#fff', grid, xAxis, yAxis, series, legend, graphic };
}

export default function App() {
  const ref = useRef<HTMLDivElement>(null);
  useEffect(() => {
    document.body.style.margin = '0';
    if (!ref.current) return;
    const chart = echarts.init(ref.current, null, { renderer: 'svg' });
    chart.setOption(buildOption() as any);
    return () => chart.dispose();
  }, []);
  return <div ref={ref} style={{ width: 3150, height: 3167, background: '#fff' }} />;
}
